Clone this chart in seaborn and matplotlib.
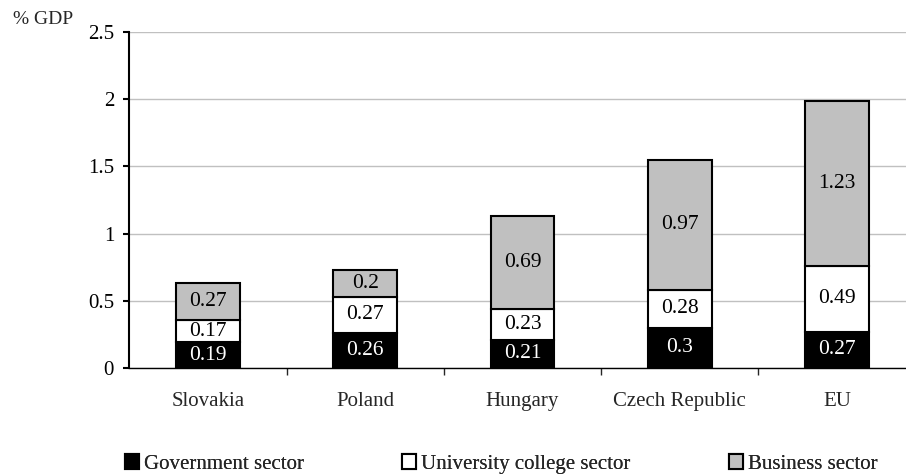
import matplotlib
matplotlib.use("Agg")
import matplotlib.pyplot as plt
import seaborn as sns
import numpy as np
from matplotlib.patches import Patch
from matplotlib.ticker import FixedLocator

countries = ["Slovakia", "Poland", "Hungary", "Czech Republic", "EU"]
government = [0.19, 0.26, 0.21, 0.3, 0.27]
university = [0.17, 0.27, 0.23, 0.28, 0.49]
business = [0.27, 0.2, 0.69, 0.97, 1.23]
series_names = ["Government sector", "University college sector", "Business sector"]
y_ticks = [0, 0.5, 1, 1.5, 2, 2.5]
y_tick_labels = ["0", "0.5", "1", "1.5", "2", "2.5"]

sns.set_style("white")
plt.rcParams['font.family'] = ['Liberation Serif', 'DejaVu Serif']

fig = plt.figure(figsize=(9.06, 4.75), dpi=100)
ax = fig.add_axes([129.4/906, 107/475, 786.2/906, 336/475])

colors = ["#000000", "#ffffff", "#c0c0c0"]
text_colors = ["white", "black", "black"]
series = [government, university, business]
bottom = np.zeros(len(countries))
for vals, col, tcol in zip(series, colors, text_colors):
    sns.barplot(x=countries, y=vals, bottom=bottom.copy(), color=col, width=0.407,
                edgecolor="black", linewidth=1.5, ax=ax, saturation=1, zorder=3)
    for i, v in enumerate(vals):
        ax.text(i, bottom[i] + v / 2, f"{v:g}", ha="center", va="center",
                color=tcol, fontsize=15.5, zorder=5)
    bottom = bottom + np.array(vals)

ax.set_ylim(0, 2.5)
ax.set_xlim(-0.5, len(countries) - 0.5)
ax.set_yticks(y_ticks)
ax.set_yticklabels(y_tick_labels)
ax.yaxis.grid(True, color="#c0c0c0", linewidth=1, zorder=0)
ax.set_axisbelow(True)
for s in ["top", "right"]:
    ax.spines[s].set_visible(False)
ax.spines["left"].set_color("black")
ax.spines["left"].set_linewidth(1.5)
ax.spines["bottom"].set_color("black")
ax.spines["bottom"].set_linewidth(1.0)
ax.tick_params(axis="y", which="major", length=4, width=1.5, direction="out",
               left=True, labelsize=15, pad=7, colors="black")
ax.tick_params(axis="x", which="major", length=0, labelsize=15, pad=17)
ax.xaxis.set_minor_locator(FixedLocator(np.arange(0.5, len(countries) - 0.5, 1)))
ax.tick_params(axis="x", which="minor", length=5, width=1, direction="out", bottom=True)
ax.set_xlabel("")
ax.set_ylabel("")

fig.text(13/906, 1 - 20/475, "% GDP", fontsize=14, va="center", ha="left")

legend_x = [125, 402, 729]
for c, name, lx in zip(colors, series_names, legend_x):
    h = Patch(facecolor=c, edgecolor="black", linewidth=1.5)
    leg = fig.legend([h], [name], loc="center left", bbox_to_anchor=(lx/906, 1 - 464/475),
                     frameon=False, fontsize=15, handlelength=0.68, handleheight=0.68,
                     handletextpad=0.25, borderpad=0, borderaxespad=0)
    fig.add_artist(leg)

fig.savefig("out.png", dpi=100)
